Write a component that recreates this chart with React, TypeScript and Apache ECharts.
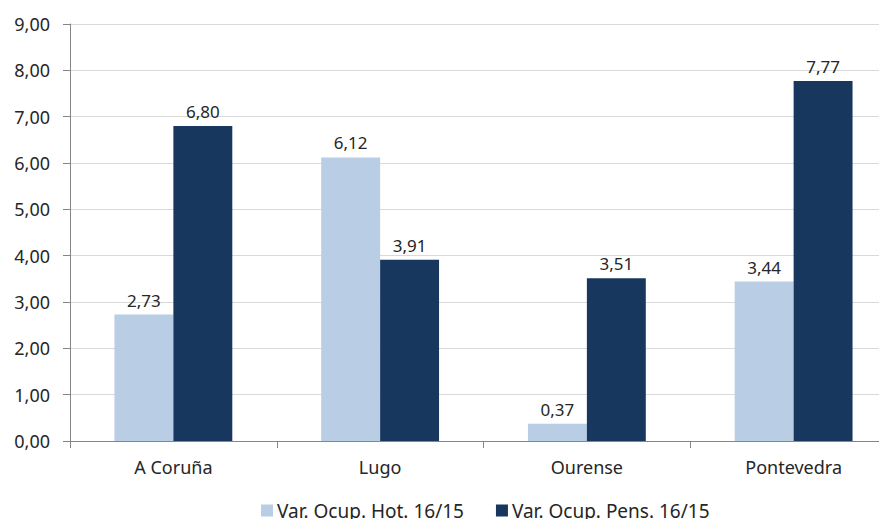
import React, { useEffect, useRef } from "react";
import * as echarts from "echarts";

const categories = ["A Coruña", "Lugo", "Ourense", "Pontevedra"];
const hotValues = [2.73, 6.12, 0.37, 3.44];
const pensValues = [6.8, 3.91, 3.51, 7.77];
const seriesNames = ["Var. Ocup. Hot. 16/15", "Var. Ocup. Pens. 16/15"];

const fmt = (v: number) => v.toFixed(2).replace(".", ",");
const FONT = "Noto Sans";

export default function App() {
  const ref = useRef<HTMLDivElement>(null);
  useEffect(() => {
    if (!ref.current) return;
    const chart = echarts.init(ref.current, null, { renderer: "svg" });
    const label = {
      show: true,
      position: "top" as const,
      distance: 6,
      formatter: (p: any) => fmt(p.value),
      fontFamily: FONT,
      fontSize: 17,
      color: "#262626",
    };
    chart.setOption({
      animation: false,
      textStyle: { fontFamily: FONT },
      grid: {
        left: 70,
        top: 24,
        width: 827,
        height: 417,
        containLabel: false,
        outerBoundsMode: "none",
      },
      legend: {
        top: 501,
        left: 261,
        itemWidth: 12,
        itemHeight: 12,
        itemGap: 32,
        padding: 0,
        icon: "rect",
        textStyle: { fontFamily: FONT, fontSize: 19, color: "#262626", padding: [0, 0, 0, -1] },
        data: seriesNames,
      },
      xAxis: {
        type: "category",
        data: categories,
        axisLine: { lineStyle: { color: "#868686" } },
        axisTick: { show: true, length: 7, lineStyle: { color: "#868686" } },
        axisLabel: { fontFamily: FONT, fontSize: 18, color: "#262626", margin: 17 },
      },
      yAxis: {
        type: "value",
        min: 0,
        max: 9,
        interval: 1,
        axisLine: { show: true, lineStyle: { color: "#868686" } },
        axisTick: { show: true, length: 7, lineStyle: { color: "#868686" } },
        splitLine: { lineStyle: { color: "#d9d9d9" } },
        axisLabel: {
          fontFamily: FONT,
          fontSize: 18,
          color: "#262626",
          margin: 20,
          formatter: (v: number) => fmt(v),
        },
      },
      series: [
        {
          name: seriesNames[0],
          type: "bar",
          data: hotValues,
          itemStyle: { color: "#B9CDE5" },
          barGap: "0%",
          barCategoryGap: "43%",
          label,
        },
        {
          name: seriesNames[1],
          type: "bar",
          data: pensValues,
          itemStyle: { color: "#17375E" },
          barGap: "0%",
          barCategoryGap: "43%",
          label,
        },
      ],
    });
    return () => chart.dispose();
  }, []);
  return <div ref={ref} style={{ width: 887, height: 527, margin: -8 }} />;
}
